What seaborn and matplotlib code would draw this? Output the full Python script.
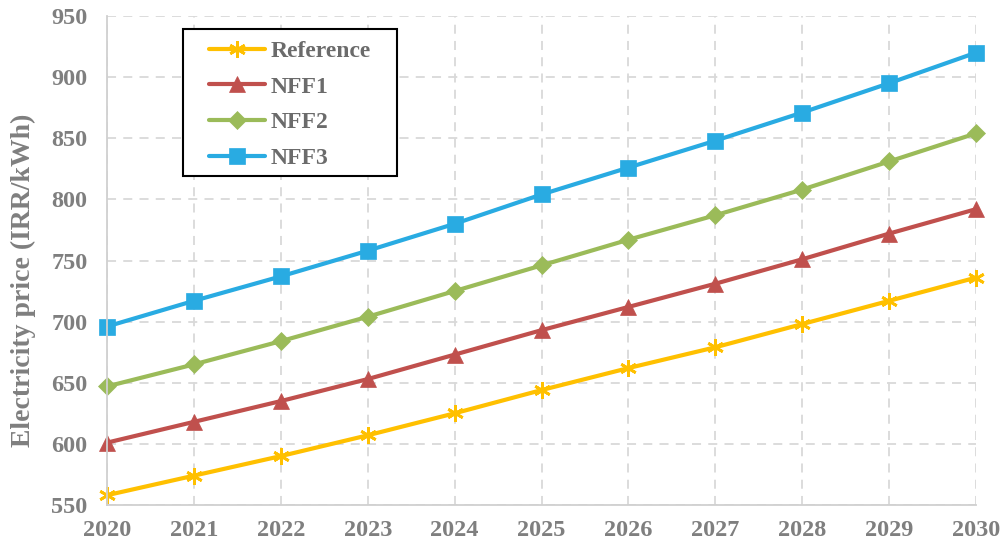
import pandas as pd
import numpy as np
import matplotlib
matplotlib.use('Agg')
import matplotlib.pyplot as plt
from matplotlib.patches import Rectangle
import seaborn as sns

# ================= data =================
years = [2020, 2021, 2022, 2023, 2024, 2025, 2026, 2027, 2028, 2029, 2030]
reference = [558, 574, 590, 607, 625, 644, 662, 679, 698, 717, 736]
nff1 = [601, 618, 635, 653, 673, 693, 712, 731, 751, 772, 792]
nff2 = [647, 665, 684, 704, 725, 746, 767, 787, 808, 831, 854]
nff3 = [696, 717, 737, 758, 780, 804, 826, 848, 871, 895, 920]
series_names = ['Reference', 'NFF1', 'NFF2', 'NFF3']
y_ticks = [550, 600, 650, 700, 750, 800, 850, 900, 950]

colors = {'Reference': '#FFC000', 'NFF1': '#C0504D', 'NFF2': '#9BBB59', 'NFF3': '#29ABE2'}
markers = {'Reference': (6, 2, 0), 'NFF1': '^', 'NFF2': 'D', 'NFF3': 's'}
sizes = {'Reference': 12, 'NFF1': 11, 'NFF2': 9, 'NFF3': 11}
edge_w = {'Reference': 2, 'NFF1': 0.5, 'NFF2': 0.5, 'NFF3': 0.5}


def build_frame():
    rows = []
    for name, vals in zip(series_names, [reference, nff1, nff2, nff3]):
        for y, v in zip(years, vals):
            rows.append({'Year': y, 'Price': v, 'Scenario': name})
    return pd.DataFrame(rows)


def plot_chart():
    sns.set_theme(style='white')
    plt.rcParams['font.family'] = ['Liberation Serif', 'DejaVu Serif']
    plt.rcParams['font.weight'] = 'bold'

    df = build_frame()
    fig = plt.figure(figsize=(10.03, 5.46), dpi=100)
    ax = fig.add_axes([107 / 1003, 41 / 546, 869 / 1003, 489 / 546])

    # 每条线单独画，方便混用星号和实心标记
    for name in series_names:
        sub = df[df['Scenario'] == name]
        sns.lineplot(data=sub, x='Year', y='Price', color=colors[name],
                     marker=markers[name], markersize=sizes[name],
                     markeredgecolor=colors[name], markeredgewidth=edge_w[name],
                     linewidth=3, label=name, ax=ax, clip_on=False)

    ax.set_xlim(2020, 2030)
    ax.set_ylim(550, 950)
    ax.set_xticks(years)
    ax.set_yticks(y_ticks)

    tick_color = '#7f7f7f'
    ax.tick_params(axis='both', labelsize=17.5, colors=tick_color, length=0)
    ax.tick_params(axis='y', pad=14)
    ax.tick_params(axis='x', pad=11)
    for lab in ax.get_xticklabels() + ax.get_yticklabels():
        lab.set_fontweight('bold')

    ax.set_xlabel('')
    ax.set_ylabel('Electricity price (IRR/kWh)', fontsize=20, fontweight='bold',
                  color=tick_color)
    ax.yaxis.set_label_coords(-0.082, 0.46)

    ax.grid(True, linestyle=(0, (5, 4)), color='#d9d9d9', linewidth=1.3)
    for side in ['top', 'right']:
        ax.spines[side].set_visible(False)
    for side in ['left', 'bottom']:
        ax.spines[side].set_color('#d0d0d0')
        ax.spines[side].set_linewidth(1.3)

    # 图例外框 (Excel 风格，左右留白更宽)
    box = Rectangle((0.0875, 0.6728), 0.2463, 0.3006, transform=ax.transAxes,
                    facecolor='white', edgecolor='black', linewidth=1.5,
                    zorder=10, clip_on=False)
    ax.add_patch(box)

    handles, labels = ax.get_legend_handles_labels()
    leg = ax.legend(handles, labels, loc='upper left',
                    bbox_to_anchor=(0.1174, 0.950), frameon=False,
                    fontsize=17, handlelength=2.35, borderpad=0, borderaxespad=0,
                    labelspacing=0.6, handletextpad=0.25)
    leg.set_zorder(11)
    for t in leg.get_texts():
        t.set_color('#6b6b6b')
        t.set_fontweight('bold')

    fig.savefig('out.png', dpi=100)
    plt.close(fig)


if __name__ == '__main__':
    plot_chart()
